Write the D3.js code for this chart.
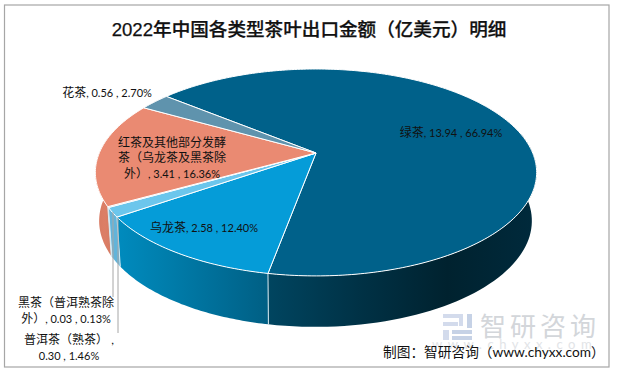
<!DOCTYPE html>
<html>
<head>
<meta charset="utf-8">
<script src="https://cdn.jsdelivr.net/npm/d3@7"></script>
<style>
  html, body { margin: 0; padding: 0; background: #fff; }
  svg { display: block; }
  text { font-family: Lato, "Noto Sans CJK SC", sans-serif; fill: #111; }
</style>
</head>
<body>
<div id="chart"></div>
<script>
// data, clockwise starting at the green tea slice
const teaNames = ["绿茶", "乌龙茶", "普洱茶（熟茶）", "黑茶（普洱熟茶除外）", "红茶及其他部分发酵茶（乌龙茶及黑茶除外）", "花茶"];
const teaValues = ["13.94", "2.58", "0.30", "0.03", "3.41", "0.56"];
const teaShares = [66.94, 12.40, 1.46, 0.13, 16.36, 2.70];

const title = "2022年中国各类型茶叶出口金额（亿美元）明细";
const source = "制图：智研咨询（www.chyxx.com）";

const width = 618, height = 374;
const toRad = Math.PI / 180;

// perspective of the tilted disc: top face and bottom face
const topFace = {a: 216.7, b: 99.8, c: 153, k: -0.188, cx: 316};
const bottomFace = {a: 212.5, b: 102.2, c: 201, k: -0.188, cx: 315.5};

function project(angle, face) {
    // angle is clockwise from the back of the disc
    const x = Math.sin(angle), y = -Math.cos(angle);
    const w = 1 + face.k * y;
    return [face.cx + face.a * x / w, face.c + face.b * y / w];
}

const pie = d3.pie().sort(null).startAngle(309.4 * toRad).endAngle((309.4 + 360) * toRad);
const slices = pie(teaShares);

const topColors = ["#00618a", "#059cd8", "#6cc6ec", "#6cc6ec", "#ea8a72", "#5f93ad"];
const sideStops = [
    ["#004560", "#003246", "#00222f", "#002a3c"],
    ["#008bbe", "#007dab", "#006e98", "#005f84"],
    ["#62b4da", "#62b4da"],
    ["#62b4da", "#62b4da"],
    ["#d67a63", "#dc7e66", "#d17a63"],
    ["#5f93ad", "#5f93ad"]
];

const svg = d3.select("#chart").append("svg")
    .attr("width", width)
    .attr("height", height);

svg.append("rect")
    .attr("x", 4.5).attr("y", 5)
    .attr("width", 604.5).attr("height", 362)
    .attr("fill", "#fff")
    .attr("stroke", "#a6a6a6")
    .attr("stroke-width", 1.2);

// watermark goes under the source text
const logo = svg.append("g").attr("fill", "#d3dbec");
logo.append("path").attr("d", "M443 314h20v4h-20zM443 322h15v4h-15zM443 330h6v10h-6zM459 318h4v8h-4z");
logo.append("path").attr("d", "M467 314h5v14h-5zM452 330h20v4h-20zM452 336h20v4h-20z").attr("fill", "#c6d2e6");

svg.append("text")
    .attr("x", 480).attr("y", 336)
    .attr("font-size", 26)
    .attr("letter-spacing", 4)
    .style("fill", "#d3d6da")
    .text("智研咨询");

svg.append("text")
    .attr("x", 432).attr("y", 349)
    .attr("font-size", 13)
    .attr("letter-spacing", 5.5)
    .style("fill", "#e2e4e7")
    .text("www.chyxx.com");

// side walls first, only the front part of the disc shows them
const defs = svg.append("defs");
const frontFrom = 79 * toRad, frontTo = 281 * toRad;
const sideLine = d3.line();

function visibleSpan(s) {
    // pie angles run past 360, bring the span back into one turn
    const turn = 2 * Math.PI;
    for (const shift of [0, -turn, turn]) {
        const from = Math.max(s.startAngle + shift, frontFrom);
        const to = Math.min(s.endAngle + shift, frontTo);
        if (to > from) return [from, to];
    }
    return null;
}

slices.forEach((s, i) => {
    const span = visibleSpan(s);
    if (!span) return;
    const steps = d3.range(0, 61).map(j => span[0] + (span[1] - span[0]) * j / 60);
    const upper = steps.map(t => project(t, topFace));
    const lower = steps.map(t => project(t, bottomFace)).reverse();
    const xs = upper.concat(lower).map(p => p[0]);

    const gradient = defs.append("linearGradient")
        .attr("id", "side" + i)
        .attr("gradientUnits", "userSpaceOnUse")
        .attr("x1", d3.min(xs)).attr("x2", d3.max(xs))
        .attr("y1", 0).attr("y2", 0);
    sideStops[i].forEach((c, j) => {
        gradient.append("stop")
            .attr("offset", j / (sideStops[i].length - 1))
            .attr("stop-color", c);
    });

    svg.append("path")
        .attr("d", sideLine(upper.concat(lower)) + "Z")
        .attr("fill", `url(#side${i})`);
});

// white seams where slices meet on the wall
slices.forEach(s => {
    const span = visibleSpan(s);
    if (!span || span[0] === frontFrom) return;
    const p0 = project(span[0], topFace), p1 = project(span[0], bottomFace);
    svg.append("line")
        .attr("x1", p0[0]).attr("y1", p0[1])
        .attr("x2", p1[0]).attr("y2", p1[1])
        .attr("stroke", "#d7eaf2")
        .attr("stroke-width", 1);
});

// top face
svg.selectAll("path.slice")
    .data(slices)
    .join("path")
    .attr("class", "slice")
    .attr("d", s => {
        const n = Math.max(4, Math.ceil((s.endAngle - s.startAngle) * 60));
        const rim = d3.range(0, n + 1).map(j => project(s.startAngle + (s.endAngle - s.startAngle) * j / n, topFace));
        return sideLine([[topFace.cx, topFace.c]].concat(rim)) + "Z";
    })
    .attr("fill", (s, i) => topColors[i])
    .attr("stroke", "#fff")
    .attr("stroke-width", 1)
    .attr("stroke-linejoin", "round");

// leader lines for the two thin slices
const leaders = [[2, 118, 333], [3, 113, 297]];
leaders.forEach(([i, x, yEnd]) => {
    const mid = (slices[i].startAngle + slices[i].endAngle) / 2;
    const p = project(mid, topFace);
    svg.append("line")
        .attr("x1", x).attr("y1", p[1] + 5)
        .attr("x2", x).attr("y2", yEnd)
        .attr("stroke", "#a6a6a6")
        .attr("stroke-width", 1);
});

// labels, wrapped after a given number of characters of the name
const wrapAt = [0, 0, 0, 8, 9, 0];
const labelX = [451, 204, 69, 66, 172, 107];
const labelY = [136.5, 231.5, 344, 307, 146.5, 97];

teaNames.forEach((name, i) => {
    const tail = `, ${teaValues[i]} , ${teaShares[i].toFixed(2)}%`;
    let lines = [[name, tail]];
    if (wrapAt[i] > 0) {
        const n = wrapAt[i];
        const parts = [];
        let rest = name;
        while (rest.length > n) {
            parts.push([rest.slice(0, n), ""]);
            rest = rest.slice(n);
        }
        parts.push([rest, tail]);
        lines = parts;
    }
    if (i === 2) lines = [[name + " ,", ""], ["", `${teaValues[i]} , ${teaShares[i].toFixed(2)}%`]];

    lines.forEach((line, j) => {
        const label = svg.append("text")
            .attr("text-anchor", "middle")
            .attr("x", labelX[i])
            .attr("y", labelY[i] + j * 15.5);
        label.append("tspan").attr("font-size", 12).text(line[0]);
        label.append("tspan").attr("font-size", 11).text(line[1]);
    });
});

svg.append("text")
    .attr("x", 309).attr("y", 36)
    .attr("text-anchor", "middle")
    .attr("font-size", 18.6)
    .attr("font-weight", 500)
    .style("font-family", '"Liberation Sans", "Noto Sans CJK SC", sans-serif')
    .style("stroke", "#111")
    .style("stroke-width", 0.25)
    .text(title);

svg.append("text")
    .attr("x", 383).attr("y", 357)
    .attr("font-size", 13.7)
    .text(source);
</script>
</body>
</html>
